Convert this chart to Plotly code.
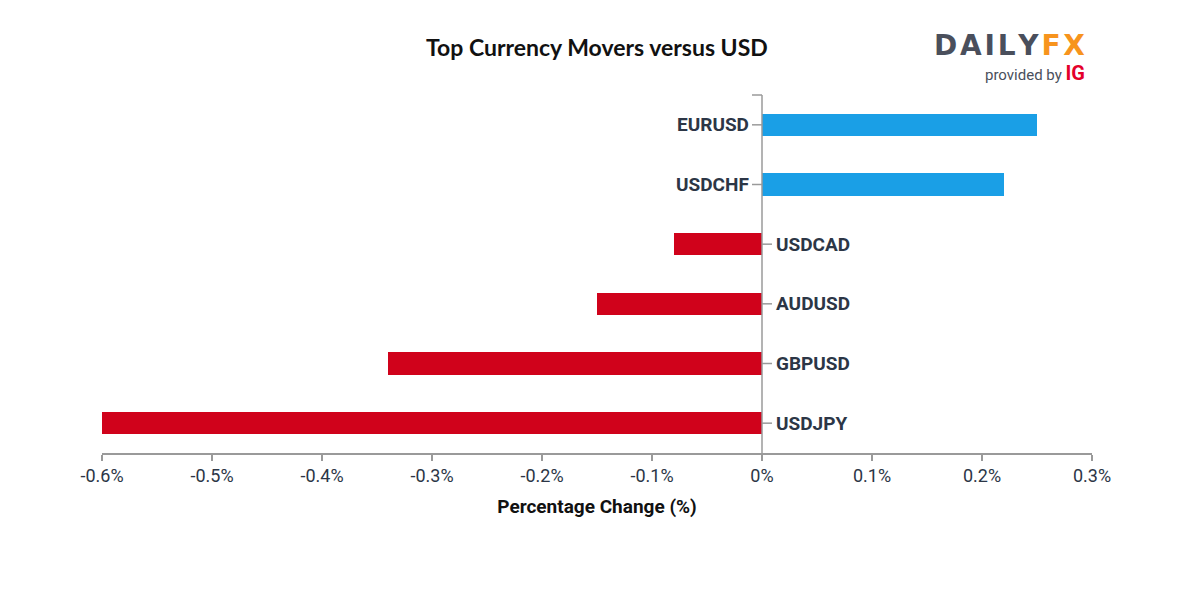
import plotly.graph_objects as go

pairs = ["EURUSD", "USDCHF", "USDCAD", "AUDUSD", "GBPUSD", "USDJPY"]
changes = [0.25, 0.22, -0.08, -0.15, -0.34, -0.60]
tick_vals = [-0.6, -0.5, -0.4, -0.3, -0.2, -0.1, 0, 0.1, 0.2, 0.3]
tick_text = ["-0.6%", "-0.5%", "-0.4%", "-0.3%", "-0.2%", "-0.1%", "0%", "0.1%", "0.2%", "0.3%"]

BLUE = "#1a9fe6"
RED = "#d0021b"
AXIS = "#9a9a9a"
LABEL = "#2c3646"

colors = [BLUE if v >= 0 else RED for v in changes]

fig = go.Figure()
fig.add_trace(go.Bar(
    x=changes, y=pairs, orientation="h",
    marker=dict(color=colors, line=dict(width=0)),
    width=0.37, hoverinfo="x+y",
))

shapes = [
    dict(type="line", xref="x", yref="paper", x0=0, x1=0, y0=0, y1=1,
         line=dict(color=AXIS, width=1.5)),
    dict(type="line", xref="x", yref="paper", xsizemode="pixel", xanchor=0,
         x0=-10, x1=0, y0=1, y1=1, line=dict(color=AXIS, width=1.5)),
]
annotations = []
for p, v in zip(pairs, changes):
    if v >= 0:
        shapes.append(dict(type="line", xref="x", yref="y", xsizemode="pixel", xanchor=0,
                           x0=-10, x1=0, y0=p, y1=p, line=dict(color=AXIS, width=1.5)))
        annotations.append(dict(x=0, y=p, xref="x", yref="y", text=p, showarrow=False,
                                xanchor="right", xshift=-11,
                                font=dict(family="Roboto", size=19, color=LABEL, weight="bold")))
    else:
        shapes.append(dict(type="line", xref="x", yref="y", xsizemode="pixel", xanchor=0,
                           x0=0, x1=10, y0=p, y1=p, line=dict(color=AXIS, width=1.5)))
        annotations.append(dict(x=0, y=p, xref="x", yref="y", text=p, showarrow=False,
                                xanchor="left", xshift=12,
                                font=dict(family="Roboto", size=19, color=LABEL, weight="bold")))

# page-pixel -> paper helpers (plot area on page: x 102..1092, y 95..453)
def px(xp):
    return (xp - 102) / 990
def py(yp):
    return (453 - yp) / 358

annotations.append(dict(x=px(597), y=py(47), xref="paper", yref="paper",
                        text="Top Currency Movers versus USD",
                        showarrow=False, xanchor="center", yanchor="middle",
                        font=dict(family="Lato", size=23, color="#111111", weight="bold")))

hs = "\u200a"
annotations.append(dict(x=px(1009), y=py(46), xref="paper", yref="paper",
                        text="<span style='color:#4a4f5c'>" + hs.join("DAILY") + "</span>" + hs +
                             "<span style='color:#f7941d'>" + hs.join("FX") + "</span>",
                        showarrow=False, xanchor="center", yanchor="middle",
                        font=dict(family="DejaVu Sans", size=28, weight="bold")))
annotations.append(dict(x=px(1087), y=py(73), xref="paper", yref="paper",
                        text="<span style='color:#4a4f5c;font-size:15px'>provided by </span><span style='color:#e4002b;font-size:20px'><b>IG</b></span>",
                        showarrow=False, xanchor="right", yanchor="middle",
                        font=dict(family="Roboto", size=15)))

fig.update_layout(
    width=1200, height=600,
    margin=dict(l=94, r=116, t=87, b=155),
    paper_bgcolor="white", plot_bgcolor="white",
    showlegend=False,
    bargap=0,
    xaxis=dict(range=[-0.6, 0.3], tickvals=tick_vals, ticktext=tick_text,
               showgrid=False, zeroline=False, showline=True, linecolor=AXIS, linewidth=1.5,
               ticks="outside", ticklen=6, tickcolor=AXIS, tickwidth=1.5,
               tickfont=dict(family="Roboto", size=18, color=LABEL),
               title=dict(text="Percentage Change (%)", standoff=14,
                          font=dict(family="Roboto", size=19, color="#111111", weight="bold"))),
    yaxis=dict(categoryorder="array", categoryarray=pairs, autorange="reversed",
               showticklabels=False, showgrid=False, zeroline=False, showline=False, ticks=""),
    shapes=shapes,
    annotations=annotations,
)

fig.write_html("out.html")
